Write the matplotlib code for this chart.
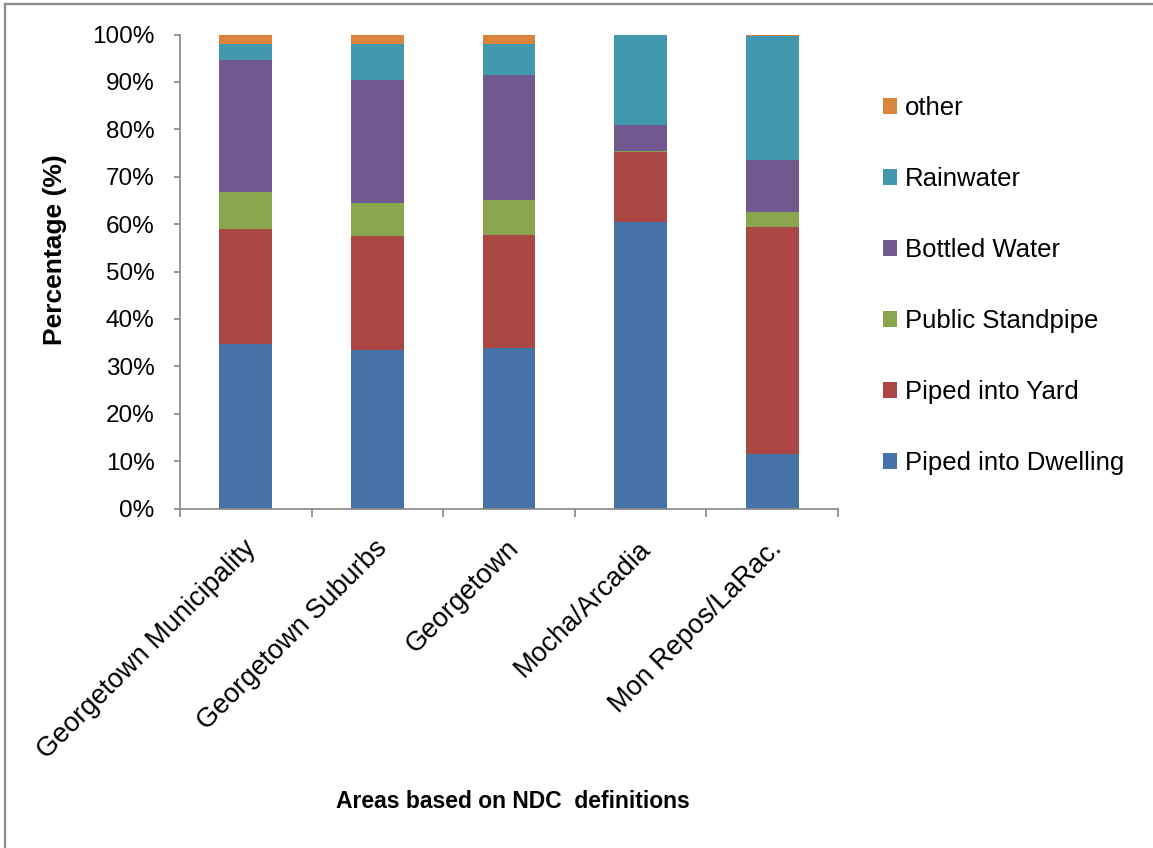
import matplotlib
matplotlib.use("Agg")
import matplotlib.pyplot as plt
import matplotlib.transforms as mtransforms
from matplotlib.lines import Line2D
import numpy as np

# Share of households by main drinking-water source (%)
areas = ["Georgetown Municipality", "Georgetown Suburbs", "Georgetown",
         "Mocha/Arcadia", "Mon Repos/LaRac."]
piped_dwelling = [34.8, 33.4, 33.8, 60.4, 11.6]
piped_yard = [24.1, 24.0, 23.9, 14.8, 47.7]
public_standpipe = [7.8, 7.0, 7.3, 0.3, 3.3]
bottled_water = [28.0, 25.9, 26.4, 5.5, 11.0]
rainwater = [3.2, 7.6, 6.5, 19.0, 26.1]
other = [2.1, 2.1, 2.1, 0.0, 0.3]

series_names = ["Piped into Dwelling", "Piped into Yard", "Public Standpipe",
                "Bottled Water", "Rainwater", "other"]
series_values = [piped_dwelling, piped_yard, public_standpipe,
                 bottled_water, rainwater, other]
series_colors = ["#4572A7", "#AA4643", "#89A54E", "#71588F", "#4198AF", "#DB843D"]
y_ticks = list(range(0, 101, 10))

plt.rcParams["font.family"] = ["Liberation Sans", "DejaVu Sans"]

W, H = 1153, 848
fig = plt.figure(figsize=(W / 100, H / 100), dpi=100)
ax = fig.add_axes([180 / W, 1 - 508.5 / H, (838 - 180) / W, (508.5 - 34.5) / H])

x = np.arange(len(areas))
bottom = np.zeros(len(areas))
handles = []
for name, vals, col in zip(series_names, series_values, series_colors):
    bars = ax.bar(x, vals, width=0.4, bottom=bottom, color=col,
                  label=name, linewidth=0)
    handles.append(bars)
    bottom += np.array(vals)

axis_grey = "#868686"
ax.set_xlim(-0.5, len(areas) - 0.5)
ax.set_ylim(0, 100)
for s in ("top", "right"):
    ax.spines[s].set_visible(False)
for s in ("left", "bottom"):
    ax.spines[s].set_color(axis_grey)
    ax.spines[s].set_linewidth(1.2)

ax.set_yticks(y_ticks, labels=[f"{t}%" for t in y_ticks])
ax.tick_params(axis="y", colors=axis_grey, labelcolor="black", length=4.3,
               width=1.2, pad=14, labelsize=17.5)

# category boundary ticks (major) and category labels (minor)
ax.set_xticks(np.arange(len(areas) + 1) - 0.5, labels=[])
ax.tick_params(axis="x", which="major", colors=axis_grey, length=5.5, width=1.2)
ax.set_xticks(x, labels=areas, minor=True)
ax.tick_params(axis="x", which="minor", length=0, pad=19.5, labelsize=19.5)
shift = mtransforms.ScaledTranslation(-3 / 100, 0, fig.dpi_scale_trans)
for lab in ax.get_xticklabels(minor=True):
    lab.set_rotation(45)
    lab.set_ha("right")
    lab.set_va("top")
    lab.set_rotation_mode("anchor")
    lab.set_transform(lab.get_transform() + shift)

fig.legend(handles[::-1], series_names[::-1], loc="center left",
           bbox_to_anchor=(883 / W, 1 - 285.5 / H), frameon=False,
           fontsize=18.5, handlelength=0.55, handleheight=0.55,
           handletextpad=0.3, labelspacing=1.83, borderpad=0, borderaxespad=0)

fig.text(55 / W, 1 - 250 / H, "Percentage (%)", rotation=90, fontsize=19,
         fontweight="bold", ha="center", va="center")
fig.text(513 / W, 1 - 801 / H, "Areas based on NDC  definitions",
         family=["Liberation Sans Narrow", "Liberation Sans"], fontsize=16.5,
         fontweight="bold", ha="center", va="center")

# chart-area border (left and top edges)
fig.add_artist(Line2D([5 / W, 5 / W], [0, 1 - 4 / H], color="#8c8c8c", lw=1.6,
                      transform=fig.transFigure))
fig.add_artist(Line2D([5 / W, 1], [1 - 4 / H, 1 - 4 / H], color="#8c8c8c", lw=1.6,
                      transform=fig.transFigure))

fig.savefig("out.png", dpi=100, facecolor="white")
